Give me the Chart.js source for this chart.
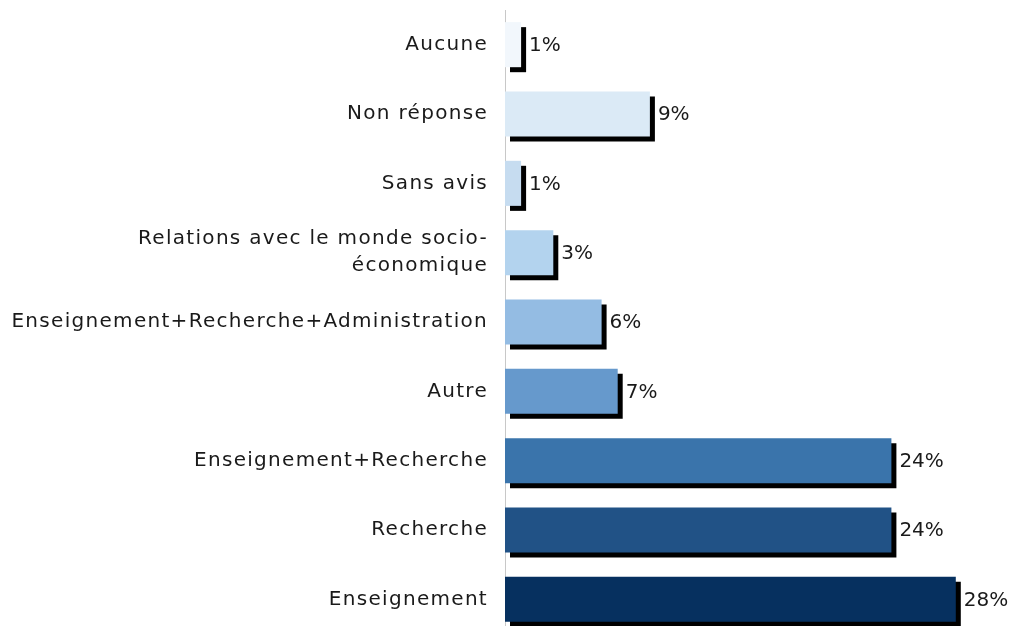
<!DOCTYPE html>
<html>
<head>
<meta charset="utf-8">
<script src="https://cdn.jsdelivr.net/npm/chart.js@4/dist/chart.umd.min.js"></script>
<style>
html,body{margin:0;padding:0;background:#fff;overflow:hidden;}
#wrap{position:relative;width:1012px;height:634px;}
</style>
</head>
<body>
<div id="wrap"><canvas id="c"></canvas></div>
<script>
const categories = [
  "Aucune",
  "Non réponse",
  "Sans avis",
  ["Relations avec le monde socio-", "économique"],
  "Enseignement+Recherche+Administration",
  "Autre",
  "Enseignement+Recherche",
  "Recherche",
  "Enseignement"
];
const values = [1, 9, 1, 3, 6, 7, 24, 24, 28];
const barColors = ["#f2f7fc", "#dbeaf6", "#c6dcf0", "#b3d3ee", "#94bce3", "#6699cc", "#3a74ab", "#215286", "#06305f"];

const FONT = "'DejaVu Sans', Verdana, sans-serif";

const shadowPlugin = {
  id: 'shadow',
  beforeDraw(chart) {
    chart.ctx.letterSpacing = '1.3px';
  },
  beforeDatasetsDraw(chart) {
    const ctx = chart.ctx;
    ctx.save();
    ctx.letterSpacing = '0px';
    ctx.shadowColor = '#000';
    ctx.shadowOffsetX = 5;
    ctx.shadowOffsetY = 5;
    ctx.shadowBlur = 0;
  },
  afterDatasetsDraw(chart) {
    const ctx = chart.ctx;
    ctx.restore();
    ctx.save();
    ctx.letterSpacing = '0px';
    ctx.font = "20px " + FONT;
    ctx.fillStyle = '#1a1a1a';
    ctx.textAlign = 'left';
    ctx.textBaseline = 'middle';
    const meta = chart.getDatasetMeta(0);
    meta.data.forEach((el, i) => {
      ctx.fillText(values[i] + '%', el.x + 8, el.y + 1);
    });
    ctx.restore();
  }
};

new Chart(document.getElementById('c'), {
  type: 'bar',
  data: {
    labels: categories,
    datasets: [{
      data: values,
      backgroundColor: barColors,
      borderWidth: 0,
      categoryPercentage: 1,
      barPercentage: 0.65,
      clip: false
    }]
  },
  options: {
    indexAxis: 'y',
    responsive: true,
    maintainAspectRatio: false,
    animation: false,
    events: [],
    layout: { autoPadding: false, padding: { top: 10, right: 24, bottom: 0, left: 0 } },
    plugins: { legend: { display: false }, tooltip: { enabled: false } },
    scales: {
      x: { display: false, min: 0, max: 30 },
      y: {
        afterFit(scale) {
          scale.width = 505;
          scale.paddingTop = 0;
          scale.paddingBottom = 0;
        },
        grid: { display: false, drawTicks: false },
        border: { display: true, color: '#c8c8c8', width: 1 },
        ticks: {
          padding: 17,
          color: '#1a1a1a',
          font: { family: FONT, size: 20, lineHeight: 1.35 }
        }
      }
    }
  },
  plugins: [shadowPlugin]
});
</script>
</body>
</html>
